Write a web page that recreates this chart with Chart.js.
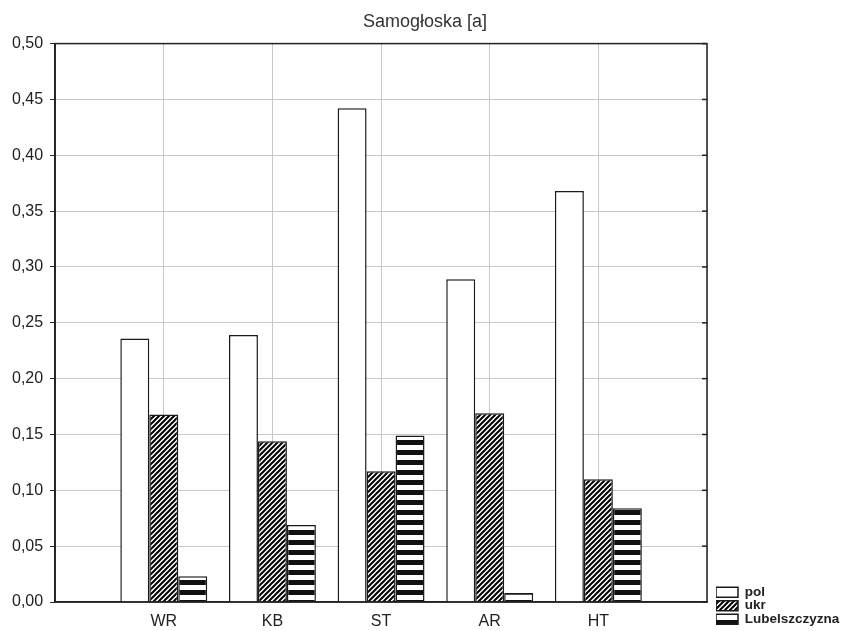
<!DOCTYPE html>
<html>
<head>
<meta charset="utf-8">
<script src="https://cdn.jsdelivr.net/npm/chart.js@4.4.1/dist/chart.umd.min.js"></script>
<style>
    html, body { margin: 0; padding: 0; background: #fff; }
    #wrap { width: 845px; height: 631px; }
</style>
</head>
<body>
<div id="wrap"><canvas id="barChart"></canvas></div>
<script>
// Chart data
const categories = ['WR', 'KB', 'ST', 'AR', 'HT'];
const polValues = [0.236, 0.239, 0.442, 0.289, 0.368];
const ukrValues = [0.168, 0.144, 0.117, 0.169, 0.110];
const lubValues = [0.023, 0.069, 0.149, 0.008, 0.084];
const yMin = 0;
const yMax = 0.5;
const yStep = 0.05;

// one empty slot on each side, so the groups sit a full step from the frame
const labels = [''].concat(categories, ['']);
const pad = arr => [null].concat(arr, [null]);

// Diagonal hatching for "ukr"
function hatchPattern() {
    const s = 5;
    const c = document.createElement('canvas');
    c.width = s;
    c.height = s;
    const g = c.getContext('2d');
    g.fillStyle = '#fff';
    g.fillRect(0, 0, s, s);
    g.strokeStyle = '#000';
    g.lineWidth = 2;
    g.beginPath();
    g.moveTo(0, s); g.lineTo(s, 0);
    g.moveTo(-1, 1); g.lineTo(1, -1);
    g.moveTo(s - 1, s + 1); g.lineTo(s + 1, s - 1);
    g.stroke();
    return g.createPattern(c, 'repeat');
}

// Horizontal stripes for "Lubelszczyzna"
function stripePattern() {
    const c = document.createElement('canvas');
    c.width = 10;
    c.height = 10;
    const g = c.getContext('2d');
    g.fillStyle = '#fff';
    g.fillRect(0, 0, 10, 10);
    g.fillStyle = '#111';
    g.fillRect(0, 0, 10, 5);
    return g.createPattern(c, 'repeat');
}

// Frame round the plot and the small inward ticks on the right side
const framePlugin = {
    id: 'frame',
    afterLayout(chart) {
        // lift the legend a little off the bottom edge
        if (chart.legend) {
            chart.legend.top -= 5;
            chart.legend.bottom -= 5;
        }
    },
    afterDatasetsDraw(chart) {
        const { ctx, chartArea: a, scales } = chart;
        const y = scales.y;
        ctx.save();
        ctx.strokeStyle = '#222';
        ctx.lineWidth = 1.5;
        ctx.strokeRect(a.left, a.top, a.right - a.left, a.bottom - a.top);
        y.ticks.forEach(t => {
            const py = y.getPixelForValue(t.value);
            ctx.beginPath();
            ctx.moveTo(a.right, py);
            ctx.lineTo(a.right - 5, py);
            ctx.stroke();
        });
        ctx.restore();
    }
};

Chart.defaults.font.family = "'Liberation Sans', Arial, sans-serif";

const barData = {
    labels: labels,
    datasets: [{
        label: 'pol',
        data: pad(polValues),
        backgroundColor: '#fff',
        borderColor: '#1a1a1a',
        borderWidth: 1.5,
    }, {
        label: 'ukr',
        data: pad(ukrValues),
        backgroundColor: hatchPattern(),
        borderColor: '#1a1a1a',
        borderWidth: 1.5,
    }, {
        label: 'Lubelszczyzna',
        data: pad(lubValues),
        backgroundColor: stripePattern(),
        borderColor: '#1a1a1a',
        borderWidth: 1.5,
    }]
};

const barChartCtx = document.getElementById('barChart').getContext('2d');
new Chart(barChartCtx, {
    type: 'bar',
    data: barData,
    plugins: [framePlugin],
    options: {
        responsive: true,
        maintainAspectRatio: false,
        animation: false,
        layout: {
            padding: { left: 5, right: 0, top: 0, bottom: 0 },
        },
        datasets: {
            bar: {
                categoryPercentage: 0.8,
                barPercentage: 1.0,
            },
        },
        scales: {
            x: {
                offset: false,
                grid: { offset: false, color: '#c8c8c8', lineWidth: 1, drawTicks: false },
                border: { color: '#222', width: 1.5 },
                ticks: {
                    color: '#222',
                    font: { size: 16 },
                    padding: 10,
                    autoSkip: false,
                    maxRotation: 0,
                },
                afterFit(scale) { scale.height = 29; },
            },
            y: {
                min: yMin,
                max: yMax,
                grid: { color: '#c8c8c8', lineWidth: 1, tickColor: '#222', tickLength: 5 },
                border: { color: '#222', width: 1.5 },
                ticks: {
                    stepSize: yStep,
                    color: '#222',
                    font: { size: 16 },
                    padding: 7,
                    callback: v => v.toFixed(2).replace('.', ','),
                },
            },
            // spacer between the plot and the legend
            y2: {
                type: 'linear',
                position: 'right',
                grid: { display: false },
                ticks: { display: false },
                border: { display: false },
                afterFit(scale) { scale.width = 9; },
            },
        },
        plugins: {
            title: {
                display: true,
                text: 'Samogłoska [a]',
                color: '#333',
                font: { size: 18, weight: 'normal' },
                padding: { top: 11, bottom: 11 },
            },
            legend: {
                display: true,
                position: 'right',
                align: 'end',
                maxWidth: 129,
                labels: {
                    boxWidth: 22,
                    boxHeight: 10,
                    padding: 0,
                    color: '#222',
                    font: { size: 13.5, weight: 'bold' },
                },
            },
            tooltip: { enabled: false },
        },
    },
});
</script>
</body>
</html>
